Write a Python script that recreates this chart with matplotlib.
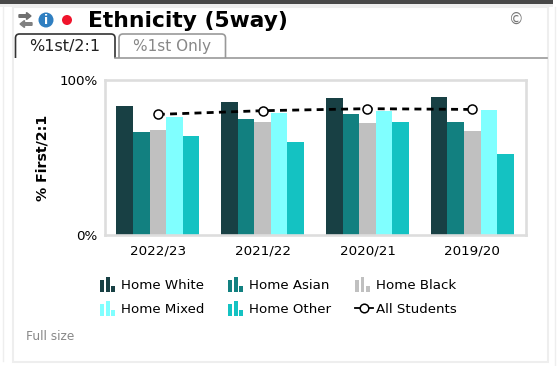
"""
Ethnicity (5way) panel: grouped bars per year with an all students line
"""

import matplotlib
matplotlib.use("Agg")
import numpy as np
import matplotlib.pyplot as plt
from matplotlib.legend_handler import HandlerBase
from matplotlib.lines import Line2D
from matplotlib.patches import Circle, FancyArrow, FancyBboxPatch, Patch, Rectangle

# --- Data ---
YEARS = ["2022/23", "2021/22", "2020/21", "2019/20"]
HOME_WHITE = [83.2, 85.8, 88.2, 89.2]
HOME_ASIAN = [66.7, 74.6, 78.0, 72.9]
HOME_BLACK = [67.7, 72.9, 72.0, 66.9]
HOME_MIXED = [76.3, 78.9, 79.8, 80.6]
HOME_OTHER = [64.0, 60.0, 72.9, 52.3]
ALL_STUDENTS = [77.8, 80.2, 81.5, 81.0]

SERIES_NAMES = ["Home White", "Home Asian", "Home Black", "Home Mixed", "Home Other"]
SERIES_VALUES = [HOME_WHITE, HOME_ASIAN, HOME_BLACK, HOME_MIXED, HOME_OTHER]
SERIES_COLORS = ["#184044", "#128080", "#c0c0c0", "#80ffff", "#14c2c2"]

W, H = 559, 366
BAR_WIDTH = 0.158
PT = 0.72  # points per pixel at dpi 100


class HandlerMiniBars(HandlerBase):
    """Legend key made of three small bars."""

    def create_artists(self, legend, orig_handle, xdescent, ydescent, width, height, fontsize, trans):
        color = orig_handle.get_facecolor()
        bars = []
        for left, bar_height in [(0.3, 12.0), (6.0, 15.0), (11.3, 6.0)]:
            bars.append(Rectangle((left * PT, -2.5 * PT), 3.6 * PT, bar_height * PT,
                                  facecolor=color, edgecolor="none", transform=trans))
        return bars


plt.rcParams['font.family'] = ['DejaVu Sans']
fig = plt.figure(figsize=(W / 100, H / 100), dpi=100, facecolor="white")

# --- Page furniture, in pixel coordinates ---
page = fig.add_axes([0, 0, 1, 1], zorder=0)
page.set_xlim(0, W)
page.set_ylim(H, 0)
page.axis("off")

page.add_patch(Rectangle((0, 0), 553, 4, facecolor="#484848", edgecolor="none"))
page.add_patch(Rectangle((0, 4), 553, 3, facecolor="#efefef", edgecolor="none"))
page.add_patch(Rectangle((13, 7), 535, 354.5, facecolor="white", edgecolor="#eeeeee", linewidth=1.5))
page.plot([3, 3], [7, 361], color="#eeeeee", lw=1)
page.plot([555, 555], [7, 366], color="#eeeeee", lw=1)

# refresh icon
page.add_patch(FancyArrow(19, 16, 12, 0, width=2.6, head_width=7, head_length=4.5,
                          length_includes_head=True, color="#707070"))
page.add_patch(FancyArrow(32, 24, -12, 0, width=2.6, head_width=7, head_length=4.5,
                          length_includes_head=True, color="#808080"))
# info icon and red dot
page.add_patch(Circle((46, 20), 7.5, facecolor="#2f7fc1", edgecolor="none"))
page.text(46, 20.5, "i", color="white", fontsize=9, fontweight="bold", ha="center", va="center")
page.add_patch(Circle((67, 20), 5, facecolor="#f0142c", edgecolor="none"))

page.text(88, 21, "Ethnicity (5way)", fontsize=15.7, fontweight="bold", color="black", ha="left", va="center")
page.text(516, 19, "©", fontsize=10.5, color="#777777", ha="center", va="center")

# tabs
page.add_patch(FancyBboxPatch((119, 34), 106.5, 34, boxstyle="round,pad=0,rounding_size=4",
                              facecolor="white", edgecolor="#999999", lw=1.2))
page.add_patch(Rectangle((117, 58), 112, 12, facecolor="white", edgecolor="none", zorder=3))
page.plot([115, 547], [57.7, 57.7], color="#999999", lw=1.2, zorder=4)
page.add_patch(FancyBboxPatch((15.5, 34), 99.5, 34, boxstyle="round,pad=0,rounding_size=4",
                              facecolor="white", edgecolor="#333333", lw=1.2))
page.add_patch(Rectangle((13.8, 58), 103, 12, facecolor="white", edgecolor="none", zorder=3))
page.text(65, 47, "%1st/2:1", fontsize=11.5, color="#222222", ha="center", va="center")
page.text(172, 47, "%1st Only", fontsize=11, color="#888888", ha="center", va="center")
page.text(26, 336, "Full size", fontsize=8.7, color="#888888", ha="left", va="center")

# --- Chart ---
ax = fig.add_axes([104.5 / W, 1 - 235 / H, 421.5 / W, 155 / H], zorder=1)
ax.patch.set_alpha(0)

x = np.arange(len(YEARS))
handles = []
for i, (name, values, color) in enumerate(zip(SERIES_NAMES, SERIES_VALUES, SERIES_COLORS)):
    ax.bar(x + (i - 2) * BAR_WIDTH, values, BAR_WIDTH, color=color, label=name, zorder=2)
    handles.append(Patch(facecolor=color, label=name))

line, = ax.plot(x, ALL_STUDENTS, color="black", lw=2, linestyle=(0, (2.5, 1.9)),
                marker="o", markersize=6.5, markerfacecolor="white", markeredgecolor="black",
                markeredgewidth=1.1, label="All Students", zorder=3)

ax.set_xlim(-0.509, 3.513)
ax.set_ylim(0, 100)
ax.set_xticks(x, YEARS)
ax.set_yticks([0, 100], ["0%", "100%"])
ax.tick_params(length=0, labelsize=9.7, colors="black")
ax.tick_params(axis="x", pad=6.5)
ax.tick_params(axis="y", pad=5)
ax.set_ylabel("% First/2:1", fontsize=10.2, fontweight="bold", labelpad=0)
ax.yaxis.set_label_coords((49 - 104.5) / 421.5, 0.5)
for spine in ax.spines.values():
    spine.set_color("#dddddd")
    spine.set_linewidth(1.9)

# legend reads row by row in the original, matplotlib fills columns
legend_handles = [handles[0], handles[3], handles[1], handles[4], handles[2], line]
legend_labels = [h.get_label() for h in legend_handles]
key_line = Line2D([], [], color="black", lw=1.3, marker="o", markersize=6.2,
                  markerfacecolor="white", markeredgecolor="black", markeredgewidth=1.1)
legend_handles[-1] = key_line
handler_map = {h: HandlerMiniBars() for h in handles}
fig.legend(legend_handles, legend_labels, handler_map=handler_map, ncol=3, frameon=False,
           fontsize=9.6, loc="center left", bbox_to_anchor=(100 / W, 1 - 297.7 / H),
           handlelength=1.35, handletextpad=0.24, columnspacing=1.76, labelspacing=0.8,
           borderpad=0, borderaxespad=0)

fig.savefig("out.png", dpi=100)
